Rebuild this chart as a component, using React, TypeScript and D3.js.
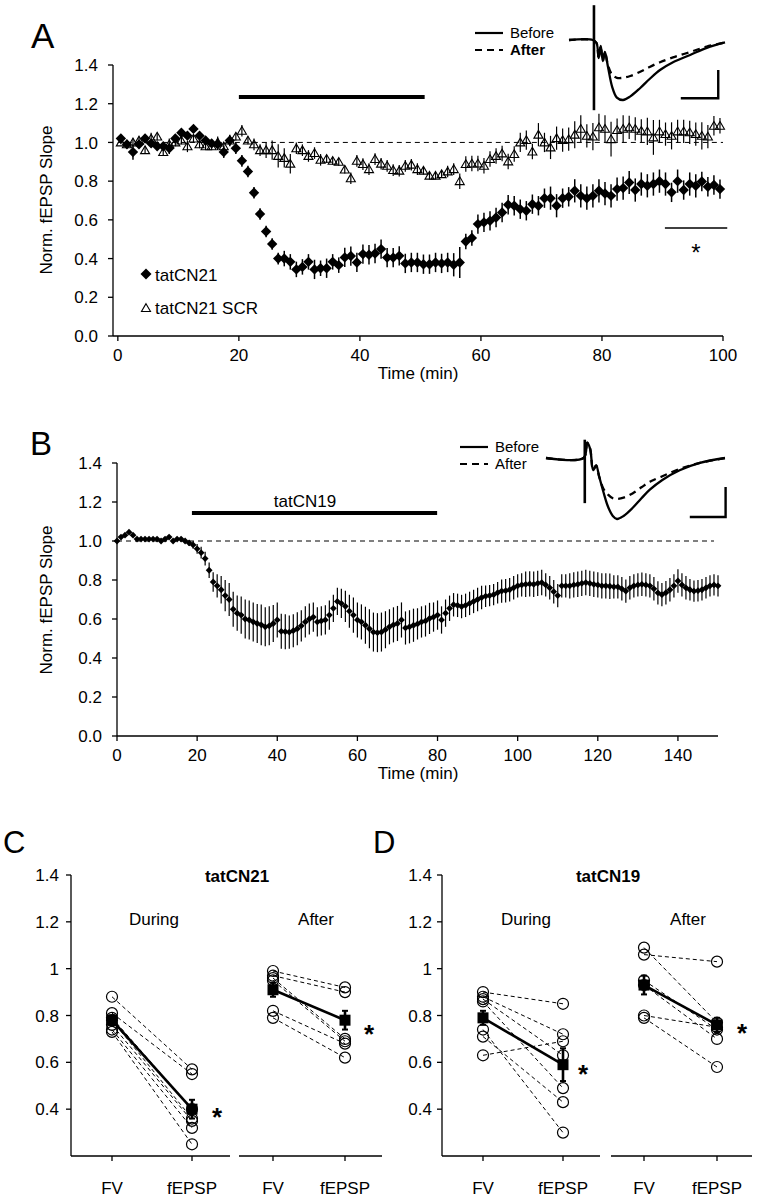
import React from 'react';
import * as d3 from 'd3';

const FONT = "'Liberation Sans', Arial, Helvetica, sans-serif";

// ---------- Panel A data (one sample per minute, t = k + 0.5) ----------
const tatCN21Mean = [
  1.02, 0.99, 0.95, 0.99, 1.02, 0.995, 0.98, 0.98, 0.97, 1.02,
  1.05, 1.035, 1.07, 1.035, 1.01, 0.995, 0.99, 0.95, 1.01, 0.97,
  0.905, 0.85, 0.74, 0.63, 0.54, 0.475, 0.40, 0.40, 0.383, 0.344,
  0.357, 0.383, 0.344, 0.35, 0.35, 0.383, 0.366, 0.406, 0.413, 0.38,
  0.423, 0.42, 0.426, 0.449, 0.405, 0.405, 0.414, 0.375, 0.38, 0.38,
  0.371, 0.371, 0.38, 0.375, 0.38, 0.368, 0.38, 0.488, 0.506, 0.578,
  0.587, 0.595, 0.612, 0.638, 0.678, 0.673, 0.655, 0.647, 0.681, 0.673,
  0.712, 0.712, 0.673, 0.712, 0.719, 0.75, 0.724, 0.712, 0.724, 0.75,
  0.736, 0.724, 0.759, 0.764, 0.793, 0.754, 0.785, 0.776, 0.785, 0.80,
  0.785, 0.742, 0.80, 0.754, 0.785, 0.776, 0.798, 0.771, 0.78, 0.759,
];
const tatCN21Sem = [
  0.02, 0.02, 0.04, 0.02, 0.02, 0.02, 0.02, 0.02, 0.03, 0.02,
  0.02, 0.02, 0.02, 0.02, 0.02, 0.02, 0.03, 0.03, 0.03, 0.03,
  0.03, 0.03, 0.03, 0.03, 0.03, 0.03, 0.03, 0.04, 0.04, 0.04,
  0.04, 0.04, 0.05, 0.04, 0.05, 0.04, 0.04, 0.05, 0.05, 0.05,
  0.05, 0.05, 0.05, 0.05, 0.05, 0.05, 0.05, 0.05, 0.05, 0.05,
  0.05, 0.05, 0.05, 0.05, 0.05, 0.06, 0.08, 0.04, 0.04, 0.05,
  0.05, 0.05, 0.05, 0.05, 0.05, 0.05, 0.05, 0.05, 0.05, 0.05,
  0.05, 0.06, 0.06, 0.05, 0.05, 0.06, 0.06, 0.06, 0.06, 0.06,
  0.06, 0.06, 0.06, 0.06, 0.06, 0.06, 0.06, 0.06, 0.06, 0.06,
  0.06, 0.05, 0.06, 0.05, 0.06, 0.06, 0.05, 0.05, 0.05, 0.05,
];
const scrMean = [
  1.00, 0.99, 1.00, 1.01, 0.96, 1.02, 1.03, 0.95, 0.99, 1.00,
  1.01, 0.98, 1.02, 0.99, 0.98, 0.98, 1.00, 0.98, 1.01, 1.03,
  1.06, 1.01, 0.99, 0.96, 0.96, 0.96, 0.93, 0.92, 0.89, 0.97,
  0.96, 0.93, 0.945, 0.91, 0.915, 0.905, 0.90, 0.86, 0.815, 0.905,
  0.888, 0.862, 0.914, 0.89, 0.879, 0.857, 0.854, 0.879, 0.885, 0.862,
  0.854, 0.828, 0.828, 0.836, 0.85, 0.862, 0.80, 0.888, 0.891, 0.891,
  0.879, 0.914, 0.93, 0.943, 0.902, 0.94, 1.0, 1.012, 0.953, 1.04,
  1.0, 0.974, 1.022, 1.012, 1.017, 1.04, 1.07, 1.034, 1.03, 1.078,
  1.07, 1.017, 1.064, 1.07, 1.078, 1.07, 1.06, 1.057, 1.026, 1.057,
  1.043, 1.034, 1.057, 1.057, 1.052, 1.043, 1.034, 1.03, 1.086, 1.086,
];
const scrSem = [
  0.01, 0.02, 0.02, 0.02, 0.02, 0.03, 0.02, 0.02, 0.03, 0.02,
  0.02, 0.03, 0.02, 0.02, 0.02, 0.02, 0.03, 0.02, 0.02, 0.02,
  0.03, 0.02, 0.03, 0.03, 0.04, 0.05, 0.06, 0.05, 0.05, 0.03,
  0.03, 0.03, 0.03, 0.03, 0.02, 0.02, 0.02, 0.02, 0.03, 0.03,
  0.03, 0.03, 0.03, 0.03, 0.03, 0.03, 0.03, 0.03, 0.03, 0.03,
  0.02, 0.02, 0.02, 0.02, 0.03, 0.03, 0.04, 0.04, 0.04, 0.04,
  0.04, 0.04, 0.04, 0.04, 0.04, 0.04, 0.05, 0.05, 0.04, 0.06,
  0.05, 0.06, 0.06, 0.06, 0.06, 0.07, 0.07, 0.06, 0.07, 0.07,
  0.07, 0.09, 0.06, 0.07, 0.06, 0.06, 0.06, 0.07, 0.09, 0.06,
  0.06, 0.07, 0.06, 0.06, 0.06, 0.06, 0.07, 0.06, 0.05, 0.04,
];
const timeA = d3.range(0.5, 100, 1);
const xTicksA = [0, 20, 40, 60, 80, 100];
const yTicksAB = [0, 0.2, 0.4, 0.6, 0.8, 1.0, 1.2, 1.4];
const drugBarA = [20, 50.7];
const drugBarALevel = 1.235;
const sigBarA = [90.4, 100.7];
const sigBarALevel = 0.558;

// ---------- Panel B data (one sample per minute, t = 0..150) ----------
const tatCN19Mean = [
  1.00, 1.02, 1.03, 1.045, 1.03, 1.01, 1.01, 1.01, 1.01, 1.01,
  1.01, 1.00, 1.01, 1.02, 1.00, 1.01, 1.01, 1.00, 0.99, 0.98,
  0.96, 0.94, 0.91, 0.85, 0.79, 0.77, 0.75, 0.72, 0.70, 0.65,
  0.63, 0.62, 0.60, 0.595, 0.585, 0.577, 0.57, 0.56, 0.565, 0.577,
  0.595, 0.537, 0.535, 0.533, 0.54, 0.55, 0.565, 0.585, 0.60, 0.61,
  0.585, 0.59, 0.595, 0.62, 0.655, 0.69, 0.68, 0.665, 0.64, 0.62,
  0.595, 0.585, 0.568, 0.55, 0.533, 0.53, 0.533, 0.545, 0.56, 0.57,
  0.577, 0.595, 0.554, 0.56, 0.568, 0.575, 0.585, 0.59, 0.603, 0.61,
  0.62, 0.595, 0.63, 0.655, 0.673, 0.67, 0.664, 0.67, 0.68, 0.69,
  0.70, 0.71, 0.717, 0.72, 0.725, 0.735, 0.743, 0.745, 0.75, 0.76,
  0.77, 0.775, 0.778, 0.78, 0.778, 0.783, 0.787, 0.775, 0.76, 0.74,
  0.72, 0.77, 0.77, 0.77, 0.775, 0.778, 0.783, 0.787, 0.783, 0.778,
  0.775, 0.77, 0.77, 0.768, 0.765, 0.765, 0.755, 0.743, 0.76, 0.77,
  0.775, 0.778, 0.775, 0.77, 0.755, 0.734, 0.725, 0.735, 0.75, 0.77,
  0.795, 0.775, 0.76, 0.75, 0.743, 0.745, 0.75, 0.76, 0.77, 0.775,
  0.77,
];
const tatCN19Sem = [
  0.01, 0.01, 0.01, 0.01, 0.01, 0.01, 0.01, 0.01, 0.01, 0.01,
  0.01, 0.01, 0.01, 0.01, 0.01, 0.01, 0.01, 0.01, 0.015, 0.02,
  0.025, 0.03, 0.035, 0.04, 0.05, 0.06, 0.07, 0.08, 0.085, 0.09,
  0.09, 0.095, 0.1, 0.1, 0.1, 0.1, 0.105, 0.1, 0.1, 0.095,
  0.09, 0.09, 0.09, 0.085, 0.085, 0.085, 0.08, 0.08, 0.08, 0.075,
  0.075, 0.075, 0.075, 0.075, 0.07, 0.07, 0.075, 0.08, 0.085, 0.09,
  0.09, 0.09, 0.095, 0.1, 0.1, 0.1, 0.1, 0.095, 0.09, 0.09,
  0.09, 0.09, 0.085, 0.085, 0.085, 0.08, 0.08, 0.08, 0.08, 0.075,
  0.075, 0.07, 0.07, 0.065, 0.06, 0.06, 0.06, 0.06, 0.06, 0.06,
  0.06, 0.06, 0.055, 0.055, 0.055, 0.055, 0.06, 0.06, 0.06, 0.06,
  0.06, 0.06, 0.065, 0.065, 0.065, 0.065, 0.065, 0.06, 0.06, 0.06,
  0.06, 0.06, 0.06, 0.065, 0.065, 0.065, 0.065, 0.065, 0.065, 0.065,
  0.065, 0.065, 0.065, 0.065, 0.06, 0.06, 0.06, 0.06, 0.06, 0.06,
  0.06, 0.06, 0.06, 0.06, 0.06, 0.06, 0.06, 0.06, 0.06, 0.06,
  0.06, 0.06, 0.06, 0.055, 0.055, 0.055, 0.055, 0.055, 0.055, 0.055,
  0.055,
];
const timeB = d3.range(0, 151, 1);
const xTicksB = [0, 20, 40, 60, 80, 100, 120, 140];
const drugBarB = [18.7, 79.9];
const drugBarBLevel = 1.144;

// ---------- Inset traces (ms, normalised mV) ----------
const traceMsA = [0, 4.6, 5.3, 5.7, 6.1, 6.5, 6.9, 7.5, 8.3, 9.2, 10.4, 11.8, 13.7, 15.5, 17.5, 20, 23.3, 26.5, 30];
const traceBeforeA = [0, 0, -0.05, -0.3, -0.1, -0.35, -0.2, -0.45, -0.78, -0.96, -1.0, -0.94, -0.8, -0.65, -0.5, -0.37, -0.25, -0.13, -0.04];
const traceAfterA = [0, 0, -0.05, -0.3, -0.1, -0.35, -0.2, -0.42, -0.58, -0.63, -0.63, -0.6, -0.53, -0.45, -0.37, -0.29, -0.2, -0.11, -0.04];
const artifactA = { t: 4.8, top: 0.58, bottom: -1.17 };
const scaleBarA = { t: 28.7, v: -0.97, dt: 7.2, dv: 0.47 };

const traceMsB = [0, 6.3, 6.9, 7.4, 7.9, 8.4, 8.9, 9.6, 10.4, 11.2, 11.9, 13, 14.5, 16, 17.4, 19.5, 22.4, 25.8, 30];
const traceBeforeB = [0, 0, 0.25, 0.15, -0.2, -0.12, -0.3, -0.55, -0.8, -0.95, -1.0, -0.95, -0.82, -0.66, -0.52, -0.36, -0.2, -0.08, 0];
const traceAfterB = [0, 0, 0.25, 0.15, -0.2, -0.12, -0.3, -0.5, -0.6, -0.66, -0.67, -0.65, -0.58, -0.48, -0.39, -0.3, -0.18, -0.08, 0];
const artifactB = { t: 6.5, top: 0.3, bottom: -0.74 };
const scaleBarB = { t: 30.1, v: -0.967, dt: 6.0, dv: 0.49 };

// ---------- Panels C / D ----------
const pairCats = ['FV', 'fEPSP'];
const yTicksCD = [0.4, 0.6, 0.8, 1, 1.2, 1.4];

const cDuringFV = [0.88, 0.81, 0.79, 0.78, 0.76, 0.74, 0.73];
const cDuringEPSP = [0.57, 0.55, 0.40, 0.36, 0.35, 0.32, 0.25];
const cDuringMean = [0.78, 0.40];
const cDuringSem = [0.02, 0.04];
const cAfterFV = [0.99, 0.97, 0.96, 0.95, 0.82, 0.79];
const cAfterEPSP = [0.92, 0.90, 0.70, 0.69, 0.68, 0.62];
const cAfterMean = [0.91, 0.78];
const cAfterSem = [0.03, 0.04];

const dDuringFV = [0.90, 0.88, 0.87, 0.86, 0.74, 0.71, 0.63];
const dDuringEPSP = [0.85, 0.72, 0.63, 0.49, 0.30, 0.43, 0.69];
const dDuringMean = [0.79, 0.59];
const dDuringSem = [0.03, 0.07];
const dAfterFV = [1.09, 1.06, 0.95, 0.93, 0.80, 0.79];
const dAfterEPSP = [0.77, 1.03, 0.74, 0.70, 0.75, 0.58];
const dAfterMean = [0.93, 0.76];
const dAfterSem = [0.04, 0.03];

const diamond = (r: number) => `M0,${-r}L${r},0L0,${r}L${-r},0Z`;
const triangle = (r: number) => `M0,${-r}L${r * 1.05},${r * 0.8}L${-r * 1.05},${r * 0.8}Z`;

function LeftAxis({ y, x, ticks, fmt, fs = 17, gap = 12 }: any) {
  const [r0, r1] = y.range();
  return (
    <g>
      <line x1={x} x2={x} y1={r0} y2={r1} stroke="#000" strokeWidth={1.3} />
      {ticks.map((t: number) => (
        <g key={t}>
          <line x1={x - 5} x2={x} y1={y(t)} y2={y(t)} stroke="#000" strokeWidth={1.3} />
          <text x={x - gap} y={y(t) + fs * 0.36} textAnchor="end" fontSize={fs}>{fmt(t)}</text>
        </g>
      ))}
    </g>
  );
}

function Inset({ ms, before, after, artifact, bar, xs, ys, legendX, legendY, boldAfter }: any) {
  const line = d3.line<number>().x((_, i) => xs(ms[i])).y((d) => ys(d)).curve(d3.curveCatmullRom.alpha(0.5));
  return (
    <g>
      <line x1={legendX} x2={legendX + 28} y1={legendY} y2={legendY} stroke="#000" strokeWidth={2.2} />
      <line x1={legendX} x2={legendX + 28} y1={legendY + 17} y2={legendY + 17} stroke="#000" strokeWidth={2.2} strokeDasharray="7,5" />
      <text x={legendX + 35} y={legendY + 5} fontSize={15}>Before</text>
      <text x={legendX + 35} y={legendY + 22} fontSize={15} fontWeight={boldAfter ? 'bold' : 'normal'}>After</text>
      <path d={line(after) || ''} fill="none" stroke="#000" strokeWidth={2.3} strokeDasharray="7,5" />
      <path d={line(before) || ''} fill="none" stroke="#000" strokeWidth={2.3} />
      <line x1={xs(artifact.t)} x2={xs(artifact.t)} y1={ys(artifact.top)} y2={ys(artifact.bottom)} stroke="#000" strokeWidth={2.6} />
      <path d={`M${xs(bar.t - bar.dt)},${ys(bar.v)}L${xs(bar.t)},${ys(bar.v)}L${xs(bar.t)},${ys(bar.v + bar.dv)}`} fill="none" stroke="#000" strokeWidth={2.4} />
    </g>
  );
}

function PairGroup({ xs, y, fv, epsp, mean, sem }: any) {
  const xF = xs('FV'), xE = xs('fEPSP');
  return (
    <g>
      {fv.map((v: number, i: number) => (
        <line key={'l' + i} x1={xF} x2={xE} y1={y(v)} y2={y(epsp[i])} stroke="#000" strokeWidth={1} strokeDasharray="4,3" />
      ))}
      {fv.map((v: number, i: number) => (
        <circle key={'f' + i} cx={xF} cy={y(v)} r={5.5} fill="none" stroke="#000" strokeWidth={1.2} />
      ))}
      {epsp.map((v: number, i: number) => (
        <circle key={'e' + i} cx={xE} cy={y(v)} r={5.5} fill="none" stroke="#000" strokeWidth={1.2} />
      ))}
      <line x1={xF} x2={xE} y1={y(mean[0])} y2={y(mean[1])} stroke="#000" strokeWidth={2.6} />
      {[xF, xE].map((xx, i) => (
        <g key={'m' + i}>
          <line x1={xx} x2={xx} y1={y(mean[i] - sem[i])} y2={y(mean[i] + sem[i])} stroke="#000" strokeWidth={2.6} />
          <line x1={xx - 3} x2={xx + 3} y1={y(mean[i] - sem[i])} y2={y(mean[i] - sem[i])} stroke="#000" strokeWidth={2} />
          <line x1={xx - 3} x2={xx + 3} y1={y(mean[i] + sem[i])} y2={y(mean[i] + sem[i])} stroke="#000" strokeWidth={2} />
          <rect x={xx - 5.5} y={y(mean[i]) - 5.5} width={11} height={11} fill="#000" />
        </g>
      ))}
    </g>
  );
}

function PairAxis({ xs, x0, x1, y0 }: any) {
  return (
    <g>
      <line x1={x0} x2={x1} y1={y0} y2={y0} stroke="#000" strokeWidth={1.3} />
      {pairCats.map((c) => (
        <g key={c}>
          <line x1={xs(c)} x2={xs(c)} y1={y0} y2={y0 + 5} stroke="#000" strokeWidth={1.3} />
          <text x={xs(c)} y={y0 + 38} textAnchor="middle" fontSize={17}>{c}</text>
        </g>
      ))}
    </g>
  );
}

const star = (x: number, y: number, fs: number, bold: boolean) => (
  <text x={x} y={y + fs * 0.52} textAnchor="middle" fontSize={fs} fontWeight={bold ? 'bold' : 'normal'}>*</text>
);

export default function App() {
  // Panel A scales
  const xA = d3.scaleLinear().domain([-0.8, 100]).range([113, 723]);
  const yA = d3.scaleLinear().domain([0, 1.4]).range([336, 65]);
  // Panel B scales
  const xB = d3.scaleLinear().domain([0, 150]).range([117, 718]);
  const yB = d3.scaleLinear().domain([0, 1.4]).range([736, 463]);
  // Insets
  const insAx = d3.scaleLinear().domain([0, 30]).range([569, 725]);
  const insAy = d3.scaleLinear().domain([0, -1]).range([40, 100]);
  const insBx = d3.scaleLinear().domain([0, 30]).range([546, 725]);
  const insBy = d3.scaleLinear().domain([0, -1]).range([458, 519]);
  // Panels C, D
  const yCD = d3.scaleLinear().domain([0.2, 1.4]).range([1156, 875]);
  const xCl = d3.scalePoint<string>().domain(pairCats).range([112, 192]);
  const xCr = d3.scalePoint<string>().domain(pairCats).range([273, 345]);
  const xDl = d3.scalePoint<string>().domain(pairCats).range([483, 563]);
  const xDr = d3.scalePoint<string>().domain(pairCats).range([644, 717]);
  const fmtAB = (d: number) => d.toFixed(1);
  const fmtCD = (d: number) => (d === 1 ? '1' : d.toFixed(1));

  return (
    <svg width={758} height={1200} style={{ position: 'absolute', left: 0, top: 0 }} fontFamily={FONT}>
      <rect width={758} height={1200} fill="#fff" />

      {/* ================= Panel A ================= */}
      <text x={31} y={48} fontSize={35}>A</text>
      <line x1={xA(0)} x2={xA(100)} y1={yA(1)} y2={yA(1)} stroke="#000" strokeWidth={1} strokeDasharray="5,4" />
      <line x1={xA(drugBarA[0])} x2={xA(drugBarA[1])} y1={yA(drugBarALevel)} y2={yA(drugBarALevel)} stroke="#000" strokeWidth={4} />
      {timeA.map((t, i) => (
        <line key={'se' + i} x1={xA(t)} x2={xA(t)} y1={yA(scrMean[i] - scrSem[i])} y2={yA(scrMean[i] + scrSem[i])} stroke="#000" strokeWidth={1.2} />
      ))}
      {timeA.map((t, i) => (
        <path key={'st' + i} d={triangle(4.3)} transform={`translate(${xA(t)},${yA(scrMean[i])})`} fill="none" stroke="#000" strokeWidth={1.1} />
      ))}
      {timeA.map((t, i) => (
        <line key={'ce' + i} x1={xA(t)} x2={xA(t)} y1={yA(tatCN21Mean[i] - tatCN21Sem[i])} y2={yA(tatCN21Mean[i] + tatCN21Sem[i])} stroke="#000" strokeWidth={1.5} />
      ))}
      {timeA.map((t, i) => (
        <path key={'cd' + i} d={diamond(5.2)} transform={`translate(${xA(t)},${yA(tatCN21Mean[i])})`} fill="#000" />
      ))}
      <line x1={xA(sigBarA[0])} x2={xA(sigBarA[1])} y1={yA(sigBarALevel)} y2={yA(sigBarALevel)} stroke="#000" strokeWidth={1.4} />
      {star(696, 249, 24, false)}
      <path d={diamond(5.5)} transform="translate(146,274)" fill="#000" />
      <text x={155} y={281} fontSize={17}>tatCN21</text>
      <path d={triangle(4.3)} transform="translate(146,308)" fill="none" stroke="#000" strokeWidth={1.1} />
      <text x={155} y={314} fontSize={17}>tatCN21 SCR</text>
      <LeftAxis y={yA} x={113} ticks={yTicksAB} fmt={fmtAB} gap={15} />
      <line x1={113} x2={723} y1={336} y2={336} stroke="#000" strokeWidth={1.3} />
      {xTicksA.map((t) => (
        <g key={t}>
          <line x1={xA(t)} x2={xA(t)} y1={336} y2={341} stroke="#000" strokeWidth={1.3} />
          <text x={xA(t)} y={361} textAnchor="middle" fontSize={17}>{t}</text>
        </g>
      ))}
      <text x={418} y={379} textAnchor="middle" fontSize={17}>Time (min)</text>
      <text transform="translate(52,200) rotate(-90)" textAnchor="middle" fontSize={17}>Norm. fEPSP Slope</text>
      <Inset ms={traceMsA} before={traceBeforeA} after={traceAfterA} artifact={artifactA} bar={scaleBarA}
        xs={insAx} ys={insAy} legendX={475} legendY={33} boldAfter={true} />

      {/* ================= Panel B ================= */}
      <text x={30} y={455} fontSize={33}>B</text>
      <line x1={xB(0)} x2={xB(149)} y1={yB(1)} y2={yB(1)} stroke="#000" strokeWidth={1} strokeDasharray="5,4" />
      <line x1={xB(drugBarB[0])} x2={xB(drugBarB[1])} y1={yB(drugBarBLevel)} y2={yB(drugBarBLevel)} stroke="#000" strokeWidth={4} />
      <text x={305} y={507} textAnchor="middle" fontSize={17}>tatCN19</text>
      {timeB.map((t, i) => (
        <line key={'be' + i} x1={xB(t)} x2={xB(t)} y1={yB(tatCN19Mean[i] - tatCN19Sem[i])} y2={yB(tatCN19Mean[i] + tatCN19Sem[i])} stroke="#000" strokeWidth={1.2} />
      ))}
      {timeB.map((t, i) => (
        <path key={'bd' + i} d={diamond(3.4)} transform={`translate(${xB(t)},${yB(tatCN19Mean[i])})`} fill="#000" />
      ))}
      <LeftAxis y={yB} x={117} ticks={yTicksAB} fmt={fmtAB} gap={15} />
      <line x1={117} x2={718} y1={736} y2={736} stroke="#000" strokeWidth={1.3} />
      {xTicksB.map((t) => (
        <g key={t}>
          <line x1={xB(t)} x2={xB(t)} y1={736} y2={741} stroke="#000" strokeWidth={1.3} />
          <text x={xB(t)} y={761} textAnchor="middle" fontSize={17}>{t}</text>
        </g>
      ))}
      <text x={418} y={779} textAnchor="middle" fontSize={17}>Time (min)</text>
      <text transform="translate(52,600) rotate(-90)" textAnchor="middle" fontSize={17}>Norm. fEPSP Slope</text>
      <Inset ms={traceMsB} before={traceBeforeB} after={traceAfterB} artifact={artifactB} bar={scaleBarB}
        xs={insBx} ys={insBy} legendX={460} legendY={447} boldAfter={false} />

      {/* ================= Panel C ================= */}
      <text x={3} y={853} fontSize={31}>C</text>
      <text x={237} y={882} textAnchor="middle" fontSize={17} fontWeight="bold">tatCN21</text>
      <text x={154} y={925} textAnchor="middle" fontSize={17}>During</text>
      <text x={316} y={925} textAnchor="middle" fontSize={17}>After</text>
      <LeftAxis y={yCD} x={71} ticks={yTicksCD} fmt={fmtCD} gap={12} />
      <PairAxis xs={xCl} x0={71} x1={230} y0={1156} />
      <PairAxis xs={xCr} x0={239} x1={382} y0={1156} />
      <PairGroup xs={xCl} y={yCD} fv={cDuringFV} epsp={cDuringEPSP} mean={cDuringMean} sem={cDuringSem} />
      <PairGroup xs={xCr} y={yCD} fv={cAfterFV} epsp={cAfterEPSP} mean={cAfterMean} sem={cAfterSem} />
      {star(217, 1112, 26, true)}
      {star(369, 1029, 26, true)}

      {/* ================= Panel D ================= */}
      <text x={373} y={853} fontSize={31}>D</text>
      <text x={608} y={882} textAnchor="middle" fontSize={17} fontWeight="bold">tatCN19</text>
      <text x={526} y={925} textAnchor="middle" fontSize={17}>During</text>
      <text x={688} y={925} textAnchor="middle" fontSize={17}>After</text>
      <LeftAxis y={yCD} x={442} ticks={yTicksCD} fmt={fmtCD} gap={10} />
      <PairAxis xs={xDl} x0={442} x1={600} y0={1156} />
      <PairAxis xs={xDr} x0={611} x1={752} y0={1156} />
      <PairGroup xs={xDl} y={yCD} fv={dDuringFV} epsp={dDuringEPSP} mean={dDuringMean} sem={dDuringSem} />
      <PairGroup xs={xDr} y={yCD} fv={dAfterFV} epsp={dAfterEPSP} mean={dAfterMean} sem={dAfterSem} />
      {star(583, 1069, 26, true)}
      {star(742, 1028, 26, true)}
    </svg>
  );
}
